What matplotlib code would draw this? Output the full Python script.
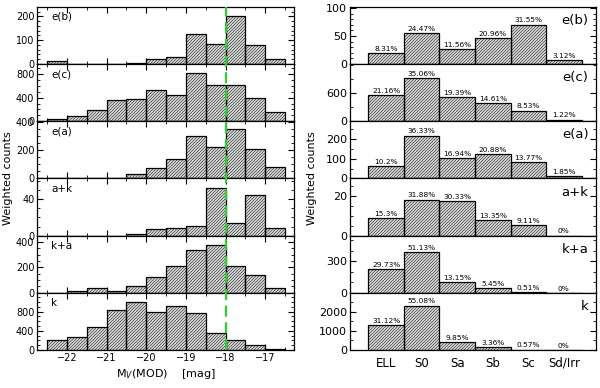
import matplotlib
matplotlib.use("Agg")
import matplotlib.pyplot as plt
import matplotlib.transforms as mtransforms
from matplotlib.lines import Line2D
from matplotlib.collections import LineCollection
from matplotlib.ticker import MultipleLocator
import numpy as np

plt.rcParams['font.family'] = 'DejaVu Sans'

# left: magnitude histograms, bins of 0.5 mag from -22.5 to -16.5
mag_edges = [-22.5, -22.0, -21.5, -21.0, -20.5, -20.0, -19.5, -19.0, -18.5, -18.0, -17.5, -17.0, -16.5]
labels = ['e(b)', 'e(c)', 'e(a)', 'a+k', 'k+a', 'k']
mag_eb = [12, 0, 0, 0, 3, 20, 28, 125, 85, 200, 78, 22]
mag_ec = [40, 86, 183, 354, 371, 526, 451, 829, 611, 611, 389, 160]
mag_ea = [0, 0, 3, 3, 28, 71, 136, 301, 224, 348, 207, 78]
mag_ak = [0, 0, 0, 0, 2, 6.7, 7.8, 11, 52.6, 14, 45.5, 8.5]
mag_ka = [0, 16, 35, 13, 53, 127, 212, 335, 375, 212, 140, 35]
mag_k = [209, 278, 487, 835, 995, 800, 918, 779, 348, 202, 97, 21]
mag_cut = -18.0

# right: morphological types
types = ['ELL', 'S0', 'Sa', 'Sb', 'Sc', 'Sd/Irr']
morph_eb = [18.6, 54.8, 25.9, 47.0, 70.7, 7.0]
morph_ec = [555, 921, 509, 384, 224, 32]
morph_ea = [61.5, 219, 102, 126, 83, 11]
morph_ak = [8.8, 18.3, 17.4, 7.7, 5.2, 0]
morph_ka = [227, 388, 100, 41.6, 3.9, 0]
morph_k = [1318, 2333, 417, 142, 24, 0]
pct_eb = ['8.31%', '24.47%', '11.56%', '20.96%', '31.55%', '3.12%']
pct_ec = ['21.16%', '35.06%', '19.39%', '14.61%', '8.53%', '1.22%']
pct_ea = ['10.2%', '36.33%', '16.94%', '20.88%', '13.77%', '1.85%']
pct_ak = ['15.3%', '31.88%', '30.33%', '13.35%', '9.11%', '0%']
pct_ka = ['29.73%', '51.13%', '13.15%', '5.45%', '0.51%', '0%']
pct_k = ['31.12%', '55.08%', '9.85%', '3.36%', '0.57%', '0%']

mag_data = [mag_eb, mag_ec, mag_ea, mag_ak, mag_ka, mag_k]
morph_data = [morph_eb, morph_ec, morph_ea, morph_ak, morph_ka, morph_k]
pct_data = [pct_eb, pct_ec, pct_ea, pct_ak, pct_ka, pct_k]

left_ylim = [241, 980, 404, 63.5, 449, 1192]
left_ticks = [[0, 100, 200], [0, 400, 800], [0, 200, 400], [0, 40], [0, 200, 400], [0, 400, 800]]
left_minor = [20, 100, 50, 10, 50, 100]
right_ylim = [103, 1225, 293, 29.1, 543, 3010]
right_ticks = [[0, 50, 100], [0, 600], [0, 100, 200], [0, 20], [0, 300], [0, 1000, 2000]]
right_minor = [10, 300, 50, 5, 100, 500]

HATCH_STEP = 3.0  # pixels between hatch lines


def hatched_bars(ax, xs, ys, w):
    # light fill underneath, black outline on top, hatch lines added in between
    ax.bar(xs, ys, width=w, facecolor='#e2e2e2', edgecolor='none', linewidth=0, zorder=1)
    bars = ax.bar(xs, ys, width=w, facecolor='none', edgecolor='black', linewidth=0.9, zorder=3)
    return bars


def add_hatch(ax, bars):
    for b in bars:
        bb = b.get_window_extent()
        if bb.height < 1:
            continue
        ks = np.arange(np.floor((bb.y0 - bb.x1) / HATCH_STEP), np.ceil((bb.y1 - bb.x0) / HATCH_STEP) + 1) * HATCH_STEP
        segs = [[(bb.x0, bb.x0 + k), (bb.x1, bb.x1 + k)] for k in ks]
        lc = LineCollection(segs, colors='#454545', linewidths=0.55,
                            transform=mtransforms.IdentityTransform(), zorder=2)
        ax.add_collection(lc, autolim=False)
        lc.set_clip_path(b)


fig = plt.figure(figsize=(6.0, 3.88), dpi=100)
gl = fig.add_gridspec(6, 1, left=0.062, right=0.4905, bottom=0.098, top=0.983, hspace=0)
gr = fig.add_gridspec(6, 1, left=0.5833, right=0.993, bottom=0.098, top=0.983, hspace=0)

mag_centres = [(a + b) / 2 for a, b in zip(mag_edges[:-1], mag_edges[1:])]
left_axes = []
for i in range(6):
    ax = fig.add_subplot(gl[i])
    left_axes.append(ax)
    bars = hatched_bars(ax, mag_centres, mag_data[i], 0.5)
    ax.set_xlim(-22.75, -16.27)
    ax.set_ylim(0, left_ylim[i])
    add_hatch(ax, bars)
    ax.set_yticks(left_ticks[i])
    ax.yaxis.set_minor_locator(MultipleLocator(left_minor[i]))
    ax.xaxis.set_major_locator(MultipleLocator(1))
    ax.xaxis.set_minor_locator(MultipleLocator(0.5))
    ax.tick_params(which='both', direction='in', top=True, right=True, labelsize=7, pad=2)
    ax.tick_params(which='major', length=4)
    ax.tick_params(which='minor', length=2)
    ax.text(0.055, 0.82, labels[i], transform=ax.transAxes, fontsize=7.5, va='center')
    if i < 5:
        ax.tick_params(labelbottom=False)
    else:
        ax.set_xticklabels([('\u2212%d' % -t if t < 0 else '%d' % t) for t in ax.get_xticks()])
        ax.set_xlabel('M$_V$(MOD)    [mag]', fontsize=8, labelpad=3)
    for s in ax.spines.values():
        s.set_linewidth(0.9)

# the -18 mag cut across the whole left stack
trans = mtransforms.blended_transform_factory(left_axes[0].transData, fig.transFigure)
fig.add_artist(Line2D([mag_cut, mag_cut], [0.098, 0.983], transform=trans, color='#33cc33',
                      linewidth=1.6, dashes=(5, 2.5)))

x = np.arange(len(types))
for i in range(6):
    ax = fig.add_subplot(gr[i])
    bars = hatched_bars(ax, x, morph_data[i], 1.0)
    for xi, v, p in zip(x, morph_data[i], pct_data[i]):
        ax.text(xi, v + right_ylim[i] * 0.02, p, ha='center', va='bottom', fontsize=5.3)
    ax.set_xlim(-1.02, 5.9)
    ax.set_ylim(0, right_ylim[i])
    add_hatch(ax, bars)
    ax.set_yticks(right_ticks[i])
    ax.yaxis.set_minor_locator(MultipleLocator(right_minor[i]))
    ax.tick_params(axis='y', which='both', direction='in', right=True, labelsize=8, pad=2)
    ax.tick_params(axis='y', which='major', length=4)
    ax.tick_params(axis='y', which='minor', length=2)
    ax.text(0.97, 0.76, labels[i], transform=ax.transAxes, fontsize=9.5, ha='right', va='center')
    ax.set_xticks(x)
    ax.tick_params(axis='x', length=0, pad=5)
    if i < 5:
        ax.tick_params(labelbottom=False)
    else:
        ax.set_xticklabels(types, fontsize=8.5)
    for s in ax.spines.values():
        s.set_linewidth(0.9)

fig.text(0.013, 0.54, 'Weighted counts', rotation=90, ha='center', va='center', fontsize=8)
fig.text(0.52, 0.54, 'Weighted counts', rotation=90, ha='center', va='center', fontsize=8)

fig.savefig('out.png', dpi=100)
